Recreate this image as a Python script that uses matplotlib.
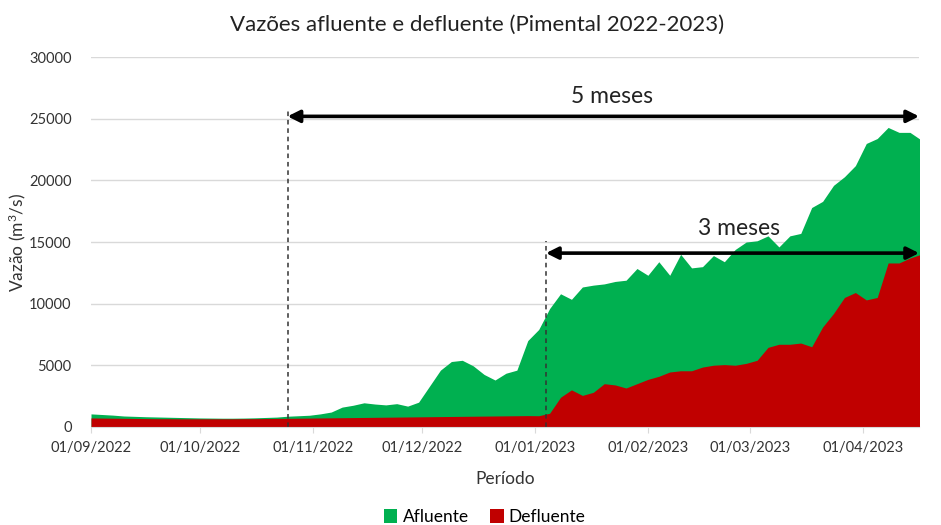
import matplotlib
matplotlib.use("Agg")
import matplotlib.pyplot as plt
import matplotlib.dates as mdates
import pandas as pd

plt.rcParams["font.family"] = ["Lato", "DejaVu Sans"]
plt.rcParams["mathtext.fontset"] = "custom"
plt.rcParams["mathtext.rm"] = "Lato"
plt.rcParams["mathtext.default"] = "rm"

# dados a cada 3 dias, de 01/09/2022 a 17/04/2023
datas = pd.date_range("2022-09-01", periods=77, freq="3D")

afluente = [
    1050, 1000, 950, 880, 850, 820, 800, 780, 760, 740, 720,
    710, 700, 700, 710, 730, 760, 790, 860, 900, 940,
    1050, 1200, 1600, 1750, 1950, 1850, 1780, 1880, 1680, 2000,
    3300, 4600, 5300, 5400, 4950, 4250, 3800, 4350, 4600, 7000, 7900,
    9600, 10800, 10350, 11350, 11500, 11600, 11800, 11900, 12850, 12300,
    13400, 12300, 14000, 12900, 13000, 13900, 13400, 14400, 15000, 15100,
    15500, 14600, 15500, 15700, 17800, 18300, 19600, 20300, 21200, 23000,
    23400, 24300, 23900, 23900, 23300,
]
defluente = [
    720, 710, 700, 690, 680, 670, 660, 660, 650, 650, 650,
    650, 650, 650, 660, 660, 670, 680, 690, 700, 710,
    720, 730, 740, 750, 760, 770, 780, 790, 800, 810,
    820, 830, 840, 850, 860, 870, 880, 890, 900, 910, 900,
    1100, 2400, 3000, 2550, 2800, 3500, 3400, 3150, 3500, 3850,
    4100, 4450, 4550, 4550, 4850, 5000, 5050, 5000, 5150, 5400,
    6450, 6700, 6700, 6800, 6500, 8100, 9200, 10500, 10900, 10300,
    10500, 13300, 13300, 13700, 14000,
]

ticks = pd.to_datetime(["2022-09-01", "2022-10-01", "2022-11-01", "2022-12-01",
                        "2023-01-01", "2023-02-01", "2023-03-01", "2023-04-01"])

# marcos das setas
inicio_5m, nivel_5m, topo_5m = pd.Timestamp("2022-10-25"), 25200, 25900
inicio_3m, nivel_3m, topo_3m = pd.Timestamp("2023-01-04"), 14100, 15100
fim = pd.Timestamp("2023-04-16 12:00")

VERDE, VERMELHO = "#00B050", "#C00000"

fig = plt.figure(figsize=(9.41, 5.25), dpi=100)
ax = fig.add_axes([0.0967, 0.187, 0.88, 0.704])

ax.fill_between(datas, afluente, 0, color=VERDE, lw=0, label="Afluente")
ax.fill_between(datas, defluente, 0, color=VERMELHO, lw=0, label="Defluente")

ax.set_xlim(pd.Timestamp("2022-09-01"), fim)
ax.set_ylim(0, 30000)
ax.set_yticks(range(0, 30001, 5000))
ax.set_xticks(ticks)
ax.xaxis.set_major_formatter(mdates.DateFormatter("%d/%m/%Y"))
ax.grid(axis="y", color="#D9D9D9", lw=1)
ax.set_axisbelow(True)
for s in ["top", "right", "left"]:
    ax.spines[s].set_visible(False)
ax.spines["bottom"].set_color("#D9D9D9")
ax.tick_params(axis="y", length=0, labelsize=10.5, colors="#333333", pad=14)
ax.tick_params(axis="x", length=4, color="#D9D9D9", labelsize=10.5, labelcolor="#333333", pad=6)

ax.set_xlabel("Período", fontsize=12.5, color="#333333", labelpad=12)
ax.set_ylabel("Vazão (m$^{3}$/s)", fontsize=12.5, color="#333333", labelpad=1)
fig.suptitle("Vazões afluente e defluente (Pimental 2022-2023)", fontsize=16,
             color="#222222", x=0.507, y=0.972)

# linhas tracejadas e setas
ax.plot([inicio_5m, inicio_5m], [0, topo_5m], color="#333333", ls=(0, (3, 2.5)), lw=1.1)
ax.plot([inicio_3m, inicio_3m], [0, topo_3m], color="#333333", ls=(0, (3, 2.5)), lw=1.1)
seta = dict(arrowstyle="<|-|>", color="black", lw=2.6, mutation_scale=18,
            shrinkA=0, shrinkB=0)
ax.annotate("", xy=(fim, nivel_5m), xytext=(inicio_5m, nivel_5m), arrowprops=seta)
ax.annotate("", xy=(fim, nivel_3m), xytext=(inicio_3m, nivel_3m), arrowprops=seta)
ax.text(pd.Timestamp("2023-01-22"), 26800, "5 meses", ha="center", va="center",
        fontsize=16.5, color="#222222")
ax.text(pd.Timestamp("2023-02-26"), 16100, "3 meses", ha="center", va="center",
        fontsize=16.5, color="#222222")

fig.legend(loc="lower center", ncol=2, frameon=False, fontsize=12.5,
           bbox_to_anchor=(0.515, -0.03), handlelength=0.8, handleheight=0.8,
           handletextpad=0.3, columnspacing=1.2)

fig.savefig("out.png", dpi=100)
